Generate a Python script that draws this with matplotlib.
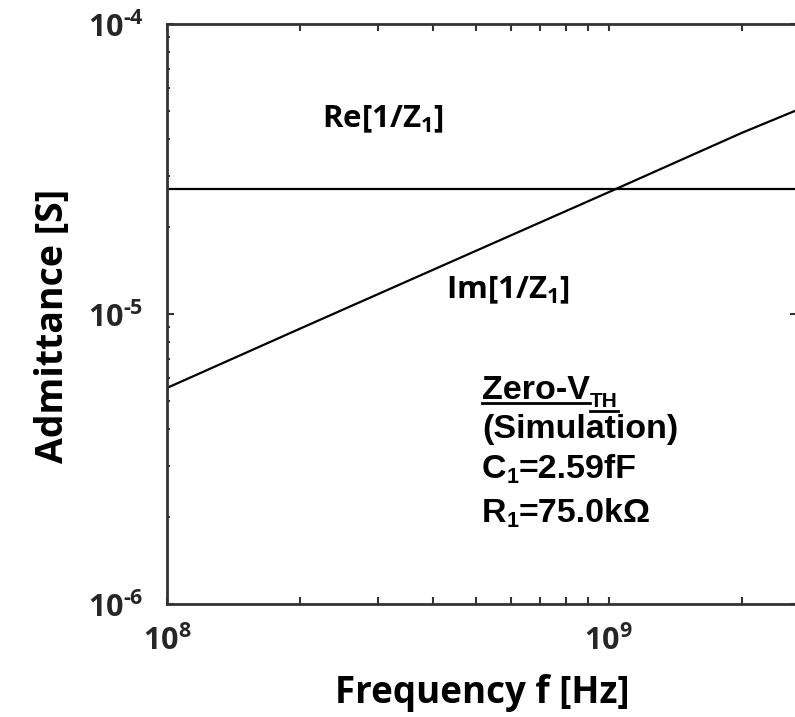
import numpy as np
import matplotlib
matplotlib.use("Agg")
import matplotlib.pyplot as plt
from matplotlib.lines import Line2D
from matplotlib.ticker import LogLocator, FixedLocator, FuncFormatter

# ---- data ----
freq_hz = [1e8, 2e8, 5e8, 1e9, 2e9, 2.67e9]
im_admittance = [5.56e-6, 8.9e-6, 1.65e-5, 2.63e-5, 4.21e-5, 5.05e-5]
re_admittance = [2.7e-5, 2.7e-5, 2.7e-5, 2.7e-5, 2.7e-5, 2.7e-5]
x_ticks = [1e8, 1e9]
y_ticks = [1e-6, 1e-5, 1e-4]
x_tick_labels = [r"$\mathbf{10^{8}}$", r"$\mathbf{10^{9}}$"]
y_tick_labels = [r"$\mathbf{10^{\text{-}6}}$", r"$\mathbf{10^{\text{-}5}}$",
                 r"$\mathbf{10^{\text{-}4}}$"]

W, H = 795, 717
plt.rcParams["mathtext.fontset"] = "custom"
plt.rcParams["mathtext.bf"] = "Open Sans:bold"
plt.rcParams["mathtext.rm"] = "Open Sans:bold"
plt.rcParams["mathtext.it"] = "Open Sans:bold"

fig = plt.figure(figsize=(W / 100, H / 100), dpi=100)
left_px, right_px, top_px, bottom_px = 167, 797, 24, 604
ax = fig.add_axes([left_px / W, 1 - bottom_px / H,
                   (right_px - left_px) / W, (bottom_px - top_px) / H])

spine_col = "#333333"
ax.plot(freq_hz, re_admittance, color="black", lw=1.6)
ax.plot(freq_hz, im_admittance, color="black", lw=1.6)
ax.set_xscale("log")
ax.set_yscale("log")
ax.set_xlim(1e8, 2.67e9)
ax.set_ylim(1e-6, 1e-4)

for s in ax.spines.values():
    s.set_color(spine_col)
    s.set_linewidth(2.0)

ax.xaxis.set_major_locator(FixedLocator(x_ticks))
ax.yaxis.set_major_locator(FixedLocator(y_ticks))
ax.xaxis.set_minor_locator(LogLocator(base=10, subs=np.arange(2, 10), numticks=20))
ax.yaxis.set_minor_locator(LogLocator(base=10, subs=np.arange(2, 10), numticks=20))
ax.set_xticklabels(x_tick_labels)
ax.set_yticklabels(y_tick_labels)
ax.xaxis.set_minor_formatter(FuncFormatter(lambda v, p: ""))
ax.yaxis.set_minor_formatter(FuncFormatter(lambda v, p: ""))

ax.tick_params(which="both", direction="in", color=spine_col, width=1.5,
               top=True, right=True)
ax.tick_params(axis="x", which="major", length=5, pad=15, labelsize=22,
               labelcolor="#262626")
ax.tick_params(axis="x", which="minor", length=5)
ax.tick_params(axis="y", which="major", length=5, pad=17, labelsize=22,
               labelcolor="#262626")
ax.tick_params(axis="y", which="minor", length=2.5, right=False)

ax.set_xlabel("Frequency f [Hz]", family="Open Sans", weight="bold",
              fontsize=26.5, labelpad=13)
ax.set_ylabel("Admittance [S]", family="Open Sans", weight="bold",
              fontsize=27, labelpad=11)
ax.yaxis.label.set_y(0.48)

# curve labels
fig.text(322 / W, 1 - 127 / H, r"Re[1/Z$_\mathbf{1}$]", family="Open Sans",
         weight="bold", fontsize=22.5, va="baseline", ha="left")
fig.text(446 / W, 1 - 298 / H, r"Im[1/Z$_\mathbf{1}$]", family="Open Sans",
         weight="bold", fontsize=22.5, va="baseline", ha="left")

fig.canvas.draw()
renderer = fig.canvas.get_renderer()


def draw_runs(x, y_base, runs, underline=False):
    """x, y_base in reference pixel coordinates (origin top-left, baseline)."""
    cx = x
    for text, size, dy in runs:
        t = fig.text(cx / W, 1 - (y_base + dy) / H, text,
                     family="Liberation Sans", weight="bold", fontsize=size,
                     va="baseline", ha="left", color="black")
        bb = t.get_window_extent(renderer)
        if underline:
            uy = 1 - (y_base + dy + 4) / H
            fig.add_artist(Line2D([cx / W, (cx + bb.width) / W], [uy, uy],
                                  transform=fig.transFigure, color="black",
                                  lw=2.0))
        cx += bb.width


draw_runs(482, 399, [("Zero-V", 24.5, 0), ("TH", 15, 8)], underline=True)
draw_runs(482, 438, [("(Simulation)", 24.5, 0)])
draw_runs(482, 478, [("C", 24.5, 0), ("1", 15.5, 5), ("=2.59fF", 24.5, 0)])
draw_runs(482, 522, [("R", 24.5, 0), ("1", 15.5, 5), ("=75.0k\u03a9", 24.5, 0)])

fig.savefig("out.png", dpi=100)
